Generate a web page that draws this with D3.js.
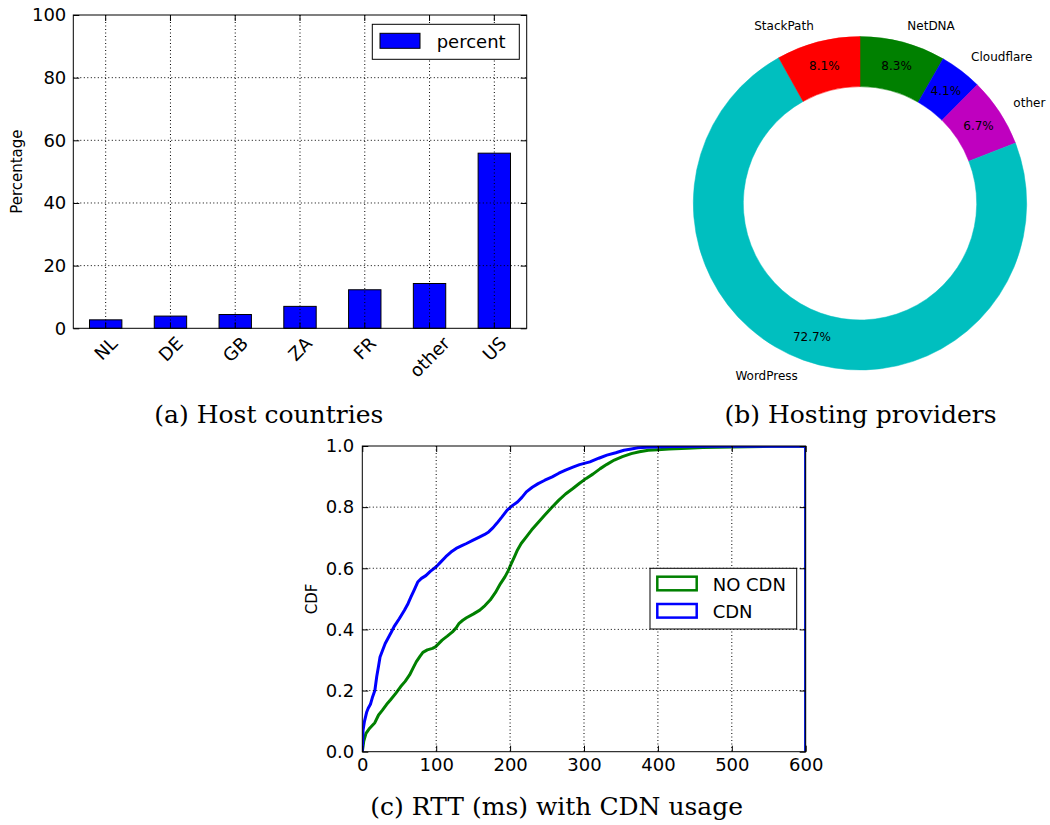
<!DOCTYPE html>
<html><head><meta charset="utf-8">
<script src="https://cdn.jsdelivr.net/npm/d3@7"></script>
<style>body{margin:0;background:#fff} svg{display:block}</style>
</head><body><svg id="chart" width="1050" height="825"></svg>
<script>
// ---------- data ----------
const countries = ["NL", "DE", "GB", "ZA", "FR", "other", "US"];
const countryPercent = [2.7, 3.9, 4.4, 7.0, 12.3, 14.3, 55.9];
const percentTicks = [0, 20, 40, 60, 80, 100];

const providers = ["NetDNA", "Cloudflare", "other", "WordPress", "StackPath"];
const providerShare = [8.3, 4.1, 6.7, 72.7, 8.1];
const providerColors = ["#008000", "#0000ff", "#bf00bf", "#00bfbf", "#ff0000"];

const rttTicks = [0, 100, 200, 300, 400, 500, 600];
const cdfTicks = [0, 0.2, 0.4, 0.6, 0.8, 1.0];
const seriesNames = ["NO CDN", "CDN"];
const seriesColors = ["#008000", "#0000ff"];

const noCdnPoints = [[0,0],[2,0.035],[5,0.06],[10,0.077],[17,0.095],[22,0.12],[27,0.135],[33,0.155],[38,0.169],[45,0.19],[52,0.213],[58,0.23],[64,0.251],[69,0.275],[73,0.294],[78,0.312],[82,0.325],[88,0.333],[95,0.338],[99,0.343],[104,0.355],[108,0.365],[115,0.378],[122,0.392],[127,0.405],[131,0.42],[136,0.43],[141,0.438],[150,0.45],[159,0.463],[166,0.478],[173,0.496],[180,0.52],[187,0.55],[193,0.572],[197,0.59],[201,0.612],[206,0.638],[210,0.66],[215,0.681],[222,0.703],[229,0.725],[238,0.75],[247,0.774],[256,0.798],[266,0.823],[275,0.843],[285,0.861],[294,0.878],[303,0.894],[312,0.908],[322,0.926],[331,0.94],[341,0.954],[352,0.965],[364,0.975],[375,0.981],[387,0.986],[400,0.988],[415,0.99],[440,0.993],[461,0.995],[500,0.997],[554,0.999],[600,1]];

const cdnPoints = [[0,0],[1,0.07],[3,0.1],[6,0.13],[8,0.142],[11,0.155],[14,0.18],[17,0.2],[19.5,0.245],[22,0.28],[24,0.31],[28,0.335],[31,0.354],[35,0.372],[39,0.39],[43,0.409],[50,0.435],[57,0.463],[62,0.485],[66,0.507],[70,0.528],[75,0.555],[80,0.567],[86,0.576],[92,0.59],[100,0.605],[106,0.62],[113,0.638],[120,0.653],[127,0.665],[134,0.673],[141,0.681],[150,0.692],[159,0.703],[165,0.71],[171,0.719],[177,0.733],[182,0.747],[189,0.768],[196,0.79],[203,0.805],[210,0.817],[216,0.832],[222,0.85],[230,0.865],[238,0.877],[247,0.888],[257,0.899],[266,0.911],[275,0.921],[285,0.931],[294,0.939],[308,0.948],[320,0.96],[331,0.97],[343,0.978],[354,0.986],[364,0.99],[373,0.994],[385,0.996],[396,0.997],[420,0.998],[470,0.999],[600,1]];

// ---------- setup ----------
const SANS = "DejaVu Sans";
const SERIF = "DejaVu Serif";
const svg = d3.select("#chart");
svg.append("rect").attr("width", 1050).attr("height", 825).attr("fill", "#fff");

function styleAxis(g, size) {
  g.attr("font-family", SANS).attr("font-size", size).attr("color", "#000");
  g.select(".domain").remove();
  g.selectAll("text").attr("fill", "#000");
}
function gridLine(g, x1, y1, x2, y2) {
  g.append("line").attr("x1", x1).attr("y1", y1).attr("x2", x2).attr("y2", y2)
    .attr("stroke", "#000").attr("stroke-width", 1).attr("stroke-dasharray", "1,2.5");
}

// ---------- (a) bar chart ----------
const A = {l: 73.3, r: 526.7, t: 15, b: 328.3};
const gA = svg.append("g");
const xA = d3.scaleBand().domain(countries).range([A.l, A.r]).paddingInner(0.5).paddingOuter(0.25);
const yA = d3.scaleLinear().domain([0, 100]).range([A.b, A.t]);

gA.selectAll("rect.bar").data(countries.map((c, i) => ({c, v: countryPercent[i]})))
  .join("rect").attr("class", "bar")
  .attr("x", d => xA(d.c)).attr("y", d => yA(d.v))
  .attr("width", xA.bandwidth()).attr("height", d => yA(0) - yA(d.v))
  .attr("fill", "#0000ff").attr("stroke", "#000").attr("stroke-width", 1);

const gridA = gA.append("g");
countries.forEach(c => { const x = xA(c) + xA.bandwidth() / 2; gridLine(gridA, x, A.t, x, A.b); });
percentTicks.slice(1, -1).forEach(v => gridLine(gridA, A.l, yA(v), A.r, yA(v)));

gA.append("g").attr("transform", `translate(${A.l},0)`)
  .call(d3.axisLeft(yA).tickValues(percentTicks).tickSizeInner(-6).tickSizeOuter(0).tickPadding(7))
  .call(g => styleAxis(g, 18));
gA.append("g").attr("transform", `translate(${A.r},0)`)
  .call(d3.axisRight(yA).tickValues(percentTicks).tickSizeInner(-6).tickSizeOuter(0).tickFormat(""))
  .call(g => styleAxis(g, 18));
gA.append("g").attr("transform", `translate(0,${A.b})`)
  .call(d3.axisBottom(xA).tickSizeInner(-6).tickSizeOuter(0).tickFormat(""))
  .call(g => styleAxis(g, 18));
gA.append("g").attr("transform", `translate(0,${A.t})`)
  .call(d3.axisTop(xA).tickSizeInner(-6).tickSizeOuter(0).tickFormat(""))
  .call(g => styleAxis(g, 18));
gA.append("rect").attr("x", A.l).attr("y", A.t).attr("width", A.r - A.l).attr("height", A.b - A.t)
  .attr("fill", "none").attr("stroke", "#000").attr("stroke-width", 1);

// rotated category labels
countries.forEach(c => {
  const x = xA(c) + xA.bandwidth() / 2;
  const t = gA.append("text").text(c).attr("font-family", SANS).attr("font-size", 18)
    .attr("text-anchor", "middle").attr("dominant-baseline", "central").attr("fill", "#000");
  const w = t.node().getComputedTextLength();
  const cy = A.b + 6.7 + (w + 14) * 0.3535;
  t.attr("transform", `translate(${x},${cy}) rotate(-45)`);
});

// y label
gA.append("text").text("Percentage").attr("font-family", SANS).attr("font-size", 15)
  .attr("text-anchor", "middle").attr("dominant-baseline", "central")
  .attr("transform", `translate(17,${(A.t + A.b) / 2}) rotate(-90)`);

// legend
gA.append("rect").attr("x", 372.3).attr("y", 24.3).attr("width", 147).attr("height", 35)
  .attr("fill", "#fff").attr("stroke", "#000").attr("stroke-width", 1);
gA.append("rect").attr("x", 380).attr("y", 33.3).attr("width", 40).attr("height", 15)
  .attr("fill", "#0000ff").attr("stroke", "#000").attr("stroke-width", 1);
gA.append("text").text("percent").attr("x", 436.7).attr("y", 47.7)
  .attr("font-family", SANS).attr("font-size", 18);

// ---------- (b) donut ----------
const B = {cx: 860, cy: 203.3, r: 166.7};
const gB = svg.append("g").attr("transform", `translate(${B.cx},${B.cy})`);
const pieData = d3.pie().sort(null).value(d => d.v)
  (providers.map((p, i) => ({p, v: providerShare[i], color: providerColors[i]})));
const arc = d3.arc().innerRadius(B.r * 0.7).outerRadius(B.r);
gB.selectAll("path").data(pieData).join("path")
  .attr("d", arc).attr("fill", d => d.data.color)
  .attr("stroke", d => d.data.color).attr("stroke-width", 0.5);
gB.selectAll("text.pct").data(pieData).join("text").attr("class", "pct")
  .attr("transform", d => `translate(${arc.centroid(d)})`)
  .attr("text-anchor", "middle").attr("dominant-baseline", "central")
  .attr("font-family", SANS).attr("font-size", 12)
  .text(d => d3.format(".1f")(d.data.v) + "%");
gB.selectAll("text.lbl").data(pieData).join("text").attr("class", "lbl")
  .each(function(d) {
    const a = (d.startAngle + d.endAngle) / 2;
    const x = Math.sin(a) * B.r * 1.1, y = -Math.cos(a) * B.r * 1.1;
    d3.select(this).attr("x", x).attr("y", y)
      .attr("text-anchor", x > 0 ? "start" : "end");
  })
  .attr("dominant-baseline", "central")
  .attr("font-family", SANS).attr("font-size", 12)
  .text(d => d.data.p);

// ---------- (c) CDF ----------
const C = {l: 362.3, r: 805.7, t: 446, b: 751.7};
const gC = svg.append("g");
const xC = d3.scaleLinear().domain([0, 600]).range([C.l, C.r]);
const yC = d3.scaleLinear().domain([0, 1]).range([C.b, C.t]);

svg.append("defs").append("clipPath").attr("id", "clipC")
  .append("rect").attr("x", C.l).attr("y", C.t).attr("width", C.r - C.l).attr("height", C.b - C.t);

const line = d3.line().x(d => xC(d[0])).y(d => yC(d[1]));
const series = [noCdnPoints, cdnPoints];
const gLines = gC.append("g").attr("clip-path", "url(#clipC)");
series.forEach((pts, i) => {
  const full = pts.concat([[xC.domain()[1], 0]]);
  gLines.append("path").attr("d", line(full)).attr("fill", "none")
    .attr("stroke", seriesColors[i]).attr("stroke-width", 3).attr("stroke-linejoin", "round");
});

const gridC = gC.append("g");
rttTicks.slice(1, -1).forEach(v => gridLine(gridC, xC(v), C.t, xC(v), C.b));
cdfTicks.slice(1, -1).forEach(v => gridLine(gridC, C.l, yC(v), C.r, yC(v)));

gC.append("g").attr("transform", `translate(${C.l},0)`)
  .call(d3.axisLeft(yC).tickValues(cdfTicks).tickFormat(d3.format(".1f")).tickSizeInner(-6).tickSizeOuter(0).tickPadding(8))
  .call(g => styleAxis(g, 18));
gC.append("g").attr("transform", `translate(${C.r},0)`)
  .call(d3.axisRight(yC).tickValues(cdfTicks).tickSizeInner(-6).tickSizeOuter(0).tickFormat(""))
  .call(g => styleAxis(g, 18));
gC.append("g").attr("transform", `translate(0,${C.b})`)
  .call(d3.axisBottom(xC).tickValues(rttTicks).tickFormat(d3.format("d")).tickSizeInner(-6).tickSizeOuter(0).tickPadding(6.5))
  .call(g => styleAxis(g, 18));
gC.append("g").attr("transform", `translate(0,${C.t})`)
  .call(d3.axisTop(xC).tickValues(rttTicks).tickSizeInner(-6).tickSizeOuter(0).tickFormat(""))
  .call(g => styleAxis(g, 18));
gC.append("rect").attr("x", C.l).attr("y", C.t).attr("width", C.r - C.l).attr("height", C.b - C.t)
  .attr("fill", "none").attr("stroke", "#000").attr("stroke-width", 1);

gC.append("text").text("CDF").attr("font-family", SANS).attr("font-size", 15)
  .attr("text-anchor", "middle").attr("dominant-baseline", "central")
  .attr("transform", `translate(311.7,${(C.t + C.b) / 2}) rotate(-90)`);

// legend
gC.append("rect").attr("x", 650).attr("y", 568.3).attr("width", 146.7).attr("height", 60.7)
  .attr("fill", "#fff").attr("stroke", "#000").attr("stroke-width", 1);
seriesNames.forEach((name, i) => {
  const y0 = 576.7 + i * 27.3;
  gC.append("rect").attr("x", 657.3).attr("y", y0).attr("width", 39.4).attr("height", 13.6)
    .attr("fill", "none").attr("stroke", seriesColors[i]).attr("stroke-width", 2.5);
  gC.append("text").text(name).attr("x", 712.7).attr("y", y0 + 14)
    .attr("font-family", SANS).attr("font-size", 18);
});

// ---------- captions ----------
const captions = [
  {t: "(a) Host countries", x: 268.8, y: 423.3},
  {t: "(b) Hosting providers", x: 860.5, y: 423.3},
  {t: "(c) RTT (ms) with CDN usage", x: 556.7, y: 815}
];
captions.forEach(c => svg.append("text").text(c.t).attr("x", c.x).attr("y", c.y)
  .attr("text-anchor", "middle").attr("font-family", SERIF).attr("font-size", 25).attr("fill", "#000"));
</script></body></html>
